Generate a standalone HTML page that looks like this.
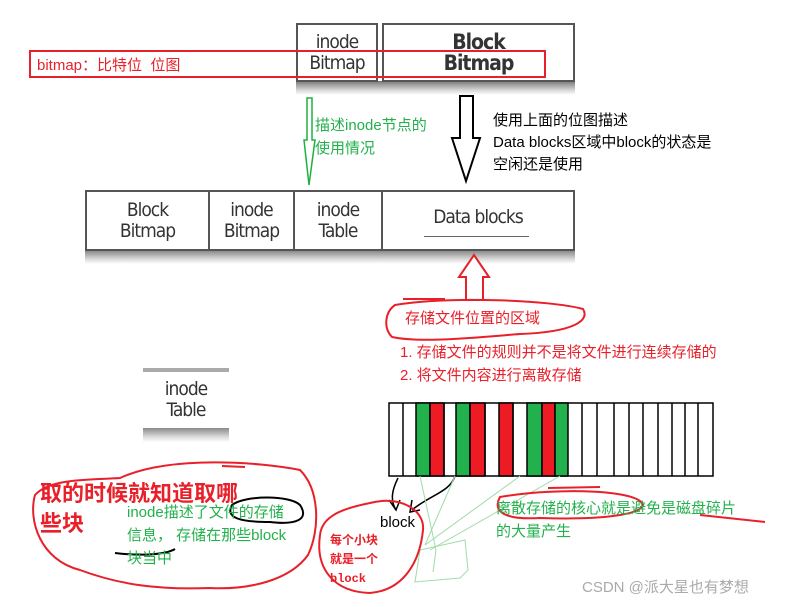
<!DOCTYPE html>
<html><head><meta charset="utf-8"><style>
body{margin:0;width:806px;height:607px;background:#fff;position:relative;overflow:hidden;font-family:"Liberation Sans","Noto Sans CJK SC",sans-serif}
.a{position:absolute;white-space:nowrap}
.box{position:absolute;border:2px solid #555;background:#fff;box-sizing:border-box;text-align:center;color:#333;font-family:"DejaVu Sans Condensed","Liberation Sans Narrow","Liberation Sans",sans-serif;font-size:19px;line-height:21px;display:flex;align-items:center;justify-content:center;letter-spacing:-1px}
.sh{position:absolute;background:linear-gradient(#777,#ddd 70%,#fff)}
</style></head><body>
<!-- top boxes -->
<div class="sh" style="left:296px;top:81px;width:279px;height:14px"></div>
<div class="box" style="left:296px;top:23px;width:82px;height:59px">inode<br>Bitmap</div>
<div class="box" style="left:382px;top:23px;width:193px;height:59px;font-weight:bold;font-size:21px">Block<br>Bitmap</div>
<div class="a" style="left:29px;top:50px;width:517px;height:28px;border:2px solid #e8202a;box-sizing:border-box"></div>
<div class="a" style="left:37px;top:54px;color:#e8202a;font-size:15px">bitmap：比特位&nbsp; 位图</div>

<!-- lower row -->
<div class="sh" style="left:85px;top:249px;width:490px;height:15px"></div>
<div class="box" style="left:85px;top:190px;width:125px;height:61px">Block<br>Bitmap</div>
<div class="box" style="left:208px;top:190px;width:87px;height:61px">inode<br>Bitmap</div>
<div class="box" style="left:293px;top:190px;width:90px;height:61px">inode<br>Table</div>
<div class="box" style="left:381px;top:190px;width:194px;height:61px;padding-bottom:6px">Data blocks</div>
<div class="a" style="left:424px;top:236px;width:105px;height:1px;background:#666"></div>

<!-- inode table small -->
<div class="sh" style="left:143px;top:426px;width:86px;height:16px"></div>
<div class="a" style="left:143px;top:368px;width:86px;height:4px;background:#aaa"></div>
<div class="box" style="left:143px;top:372px;width:86px;height:56px;border:none">inode<br>Table</div>

<svg class="a" style="left:0;top:0" width="806" height="607">
<polygon points="307,98 312,98 312,140 315,140 309,185 304,140 307,140" fill="none" stroke="#1fb040" stroke-width="1.5"/>
<polygon points="460,96 473,96 473,138 480,138 466,181 452,138 460,138" fill="#fff" stroke="#000" stroke-width="2"/>
<polygon points="474,255 489,277 483,277 483,300 466,300 466,277 459,277" fill="#fff" stroke="#e8202a" stroke-width="2"/>
<path d="M403,299 L445,299" stroke="#e8202a" stroke-width="2"/>
<path d="M395,305 C450,296 550,300 583,309 C590,320 575,332 520,334 C470,338 420,343 392,337 C383,328 385,312 395,305 Z" fill="none" stroke="#e8202a" stroke-width="2"/>
<g stroke="#000" stroke-width="1.5">
<rect x="389" y="403" width="324" height="73" fill="#fff"/>
<rect x="416" y="403" width="14" height="73" fill="#22b14c"/>
<rect x="430" y="403" width="14" height="73" fill="#ed1c24"/>
<rect x="456" y="403" width="14" height="73" fill="#22b14c"/>
<rect x="470" y="403" width="15" height="73" fill="#ed1c24"/>
<rect x="499" y="403" width="14" height="73" fill="#ed1c24"/>
<rect x="527" y="403" width="15" height="73" fill="#22b14c"/>
<rect x="542" y="403" width="13" height="73" fill="#ed1c24"/>
<rect x="555" y="403" width="13" height="73" fill="#22b14c"/>
<g fill="none">
<line x1="403" y1="403" x2="403" y2="476"/><line x1="444" y1="403" x2="444" y2="476"/><line x1="485" y1="403" x2="485" y2="476"/>
<line x1="513" y1="403" x2="513" y2="476"/><line x1="582" y1="403" x2="582" y2="476"/><line x1="597" y1="403" x2="597" y2="476"/>
<line x1="614" y1="403" x2="614" y2="476"/><line x1="629" y1="403" x2="629" y2="476"/><line x1="643" y1="403" x2="643" y2="476"/>
<line x1="658" y1="403" x2="658" y2="476"/><line x1="672" y1="403" x2="672" y2="476"/><line x1="685" y1="403" x2="685" y2="476"/><line x1="698" y1="403" x2="698" y2="476"/>
</g></g>
<path d="M398,478 C392,490 390,500 396,510 M389,500 L396,510 L400,500" fill="none" stroke="#000" stroke-width="1.5"/>
<path d="M455,476 C450,492 430,495 412,510 M412,500 L410,512 L420,510" fill="none" stroke="#000" stroke-width="1.5"/>
<g stroke="#9edca8" stroke-width="1" fill="none">
<path d="M420,476 L436,550 L433,572"/><path d="M455,476 L425,545"/><path d="M520,476 L425,545"/><path d="M560,476 L430,550"/>
<path d="M420,550 L465,540 L468,570 L460,578 L415,582 Z"/>
</g>
<path d="M120,478 C170,455 260,462 300,470 C320,490 320,530 308,555 C290,580 250,590 210,588 C160,590 120,585 80,570 C40,560 28,520 35,495 C50,478 90,480 120,478 Z" fill="none" stroke="#e8202a" stroke-width="2"/>
<path d="M222,466 L245,467" stroke="#e8202a" stroke-width="2"/>
<path d="M232,505 C245,495 290,495 300,505 C310,520 295,525 270,522 C240,522 225,518 232,505 Z" fill="none" stroke="#000" stroke-width="2"/>
<path d="M115,553 C140,556 165,555 175,549" fill="none" stroke="#000" stroke-width="2"/>
<path d="M370,503 C400,495 425,510 423,530 C420,560 405,590 370,593 C335,592 315,570 320,535 C322,515 345,508 370,503 Z" fill="none" stroke="#e8202a" stroke-width="2"/>
<path d="M500,497 C560,487 640,490 643,505 C640,515 600,520 540,518 C505,520 492,512 500,497 Z" fill="none" stroke="#e8202a" stroke-width="2"/>
<path d="M548,488 L600,487 M700,515 L765,522" stroke="#e8202a" stroke-width="2" fill="none"/>
</svg>

<div class="a" style="left:315px;top:114px;color:#22b14c;font-size:15px;line-height:23px">描述inode节点的<br>使用情况</div>
<div class="a" style="left:493px;top:110px;color:#000;font-size:15px;line-height:22px">使用上面的位图描述<br>Data blocks区域中block的状态是<br>空闲还是使用</div>
<div class="a" style="left:405px;top:307px;color:#e8202a;font-size:15px">存储文件位置的区域</div>
<div class="a" style="left:400px;top:341px;color:#e8202a;font-size:15px;line-height:23px">1. 存储文件的规则并不是将文件进行连续存储的<br>2. 将文件内容进行离散存储</div>
<div class="a" style="left:40px;top:479px;color:#e8202a;font-size:22px;line-height:30px;font-weight:bold">取的时候就知道取哪<br>些块</div>
<div class="a" style="left:127px;top:501px;color:#22b14c;font-size:15px;line-height:23px">inode描述了文件的存储<br>信息， 存储在那些block<br>块当中</div>
<div class="a" style="left:380px;top:514px;color:#000;font-size:15px">block</div>
<div class="a" style="left:330px;top:532px;color:#e8202a;font-size:12px;line-height:19px;font-weight:bold;font-family:'Liberation Mono','Noto Sans CJK SC',monospace">每个小块<br>就是一个<br>block</div>
<div class="a" style="left:496px;top:497px;color:#22b14c;font-size:15px;line-height:23px">离散存储的核心就是避免是磁盘碎片<br>的大量产生</div>
<div class="a" style="left:582px;top:576px;color:#aaa;font-size:15px">CSDN @派大星也有梦想</div>
</body></html>
